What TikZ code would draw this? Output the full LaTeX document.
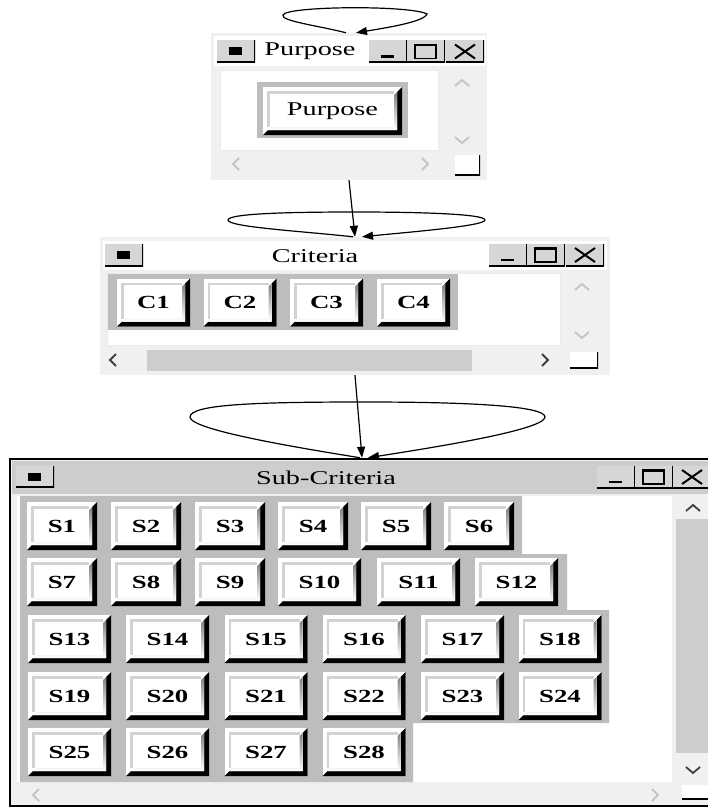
\documentclass[tikz,border=0pt]{standalone}
\usepackage{fontspec}
\setmainfont{Liberation Serif}[FakeStretch=1.45]
\usetikzlibrary{arrows.meta}

\definecolor{winbg}{HTML}{F0F0F0}
\definecolor{panelgray}{HTML}{BDBDBD}
\definecolor{titlegray}{HTML}{CDCDCD}
\definecolor{tbgray}{HTML}{D6D6D6}
\definecolor{shade}{HTML}{959595}
\definecolor{faceline}{HTML}{D2D2D2}
\definecolor{offgray}{HTML}{C4C4C4}

\newcommand\btnfont{\fontsize{18.5}{22}\selectfont\bfseries}
\newcommand\ttlfont{\fontsize{19.5}{22}\selectfont}
\def\ppbb{path picture bounding box}
\def\tbedge{\draw[black, line width=3pt] (\ppbb.south west) -- (\ppbb.south east) -- (\ppbb.north east);}

\tikzset{
  btn/.style={inner sep=0pt, minimum width=70pt, minimum height=48pt, fill=white, font=\btnfont,
    path picture={
      \fill[black] (\ppbb.south west) -- (\ppbb.south east) -- (\ppbb.north east)
        -- ([xshift=-5pt,yshift=-5pt]\ppbb.north east) -- ([xshift=-5pt,yshift=5pt]\ppbb.south east)
        -- ([xshift=5pt,yshift=5pt]\ppbb.south west) -- cycle;
      \fill[shade] ([xshift=5pt,yshift=5pt]\ppbb.south west) -- ([xshift=-5pt,yshift=5pt]\ppbb.south east)
        -- ([xshift=-5pt,yshift=-5pt]\ppbb.north east) -- ([xshift=-8pt,yshift=-8pt]\ppbb.north east)
        -- ([xshift=-8pt,yshift=8pt]\ppbb.south east) -- ([xshift=8pt,yshift=8pt]\ppbb.south west) -- cycle;
      \draw[faceline, line width=2.5pt] ([xshift=5.5pt,yshift=8pt]\ppbb.south west)
        |- ([xshift=-8pt,yshift=-5.5pt]\ppbb.north east);
    }},
  btnw/.style={btn, minimum width=83pt},
  tbtn/.style={inner sep=0pt, minimum width=38pt, minimum height=22pt, fill=tbgray},
  sysbtn/.style={tbtn, path picture={\tbedge
      \fill[black] ([xshift=-7pt,yshift=-4pt]\ppbb.center) rectangle ([xshift=6pt,yshift=4pt]\ppbb.center);}},
  minbtn/.style={tbtn, path picture={\tbedge
      \draw[black, line width=2.5pt] ([xshift=-7pt,yshift=-5pt]\ppbb.center) -- ([xshift=6pt,yshift=-5pt]\ppbb.center);}},
  maxbtn/.style={tbtn, path picture={\tbedge
      \draw[black, line width=1.6pt] ([xshift=-11pt,yshift=-7pt]\ppbb.center) rectangle ([xshift=10pt,yshift=7pt]\ppbb.center);
      \draw[black, line width=2pt] ([xshift=-11pt,yshift=6pt]\ppbb.center) -- ([xshift=10pt,yshift=6pt]\ppbb.center);}},
  closebtn/.style={tbtn, path picture={\tbedge
      \draw[black, line width=2pt] ([xshift=-10pt,yshift=-7pt]\ppbb.center) -- ([xshift=10pt,yshift=7pt]\ppbb.center)
        ([xshift=-10pt,yshift=7pt]\ppbb.center) -- ([xshift=10pt,yshift=-7pt]\ppbb.center);}},
  grip/.style={inner sep=0pt, fill=white, path picture={\tbedge}},
  ttl/.style={inner sep=0pt, font=\ttlfont},
}

\begin{document}
\begin{tikzpicture}[x=1pt, y=-1pt,
    win/.style={inner sep=0pt, fill=winbg},
    arr/.style={-{Triangle[length=11pt,width=8pt]}, line width=1.2pt},
    chevon/.style={draw=black!75, line width=1.8pt},
    chevoff/.style={draw=offgray, line width=1.8pt}]
  \useasboundingbox (0,0) rectangle (707,808);

  % Purpose window
  \node[win, minimum width=276pt, minimum height=147pt] (purpose) at (349,106.5) {};
  \fill[white] (214,36) rectangle (486,66);
  \node[sysbtn] (psys) at (236,51.5) {};
  \node[ttl] (ptitle) at (310,51) {Purpose};
  \node[minbtn] (pmin) at (388,51.5) {};
  \node[maxbtn] (pmax) at (426,51.5) {};
  \node[closebtn] (pclose) at (465,51.5) {};
  \filldraw[fill=white, draw=black!8] (220,70) rectangle (438,150);
  \fill[panelgray] (257,82) rectangle (408,138);
  \node[btn, minimum width=139pt, font=\fontsize{19.5}{22}\selectfont] (pbtn) at (332.5,111) {Purpose};
  \draw[chevoff] (455,86) -- (462,80) -- (469,86);
  \draw[chevoff] (455,137) -- (462,143) -- (469,137);
  \draw[chevoff] (239,158) -- (233,164) -- (239,170);
  \draw[chevoff] (422,158) -- (428,164) -- (422,170);
  \node[grip, minimum width=25pt, minimum height=20pt] (pgrip) at (467.5,165) {};

  % Criteria window
  \node[win, minimum width=510pt, minimum height=138pt] (criteria) at (355,306) {};
  \fill[white] (103,241) rectangle (607,270);
  \node[sysbtn] (csys) at (124,255) {};
  \node[ttl] (ctitle) at (315,256) {Criteria};
  \node[minbtn] (cmin) at (508,255) {};
  \node[maxbtn] (cmax) at (546,255) {};
  \node[closebtn] (cclose) at (585,255) {};
  \filldraw[fill=white, draw=black!8] (107,273) rectangle (560,345);
  \fill[panelgray] (108,274) rectangle (458,330);
  \node[btn, minimum width=73pt] (c1) at (153.5,302.5) {C1};
  \node[btn, minimum width=73pt] (c2) at (240,302.5) {C2};
  \node[btn, minimum width=73pt] (c3) at (326.5,302.5) {C3};
  \node[btn, minimum width=73pt] (c4) at (413.5,302.5) {C4};
  \draw[chevoff] (575,290) -- (582,284) -- (589,290);
  \draw[chevoff] (575,332) -- (582,338) -- (589,332);
  \fill[titlegray] (147,350) rectangle (472,371);
  \draw[chevon] (116,354) -- (110,360) -- (116,366);
  \draw[chevon] (542,354) -- (548,360) -- (542,366);
  \node[grip, minimum width=28pt, minimum height=16pt] (cgrip) at (584,360) {};

  % Sub-Criteria window
  \node[win, draw=black, line width=2.5pt, minimum width=704pt, minimum height=347pt] (sub) at (362,632.5) {};
  \fill[titlegray] (11.5,461) rectangle (714,494);
  \node[sysbtn] (ssys) at (35,476.5) {};
  \node[ttl] (stitle) at (326,478) {Sub-Criteria};
  \node[minbtn] (smin) at (616,477) {};
  \node[maxbtn] (smax) at (654,477) {};
  \node[closebtn] (sclose) at (692,477) {};
  \fill[white] (17,496) rectangle (672,782);
  \fill[panelgray] (20,496) -- (522,496) -- (522,554) -- (567,554) -- (567,610) -- (609,610)
    -- (609,723) -- (413,723) -- (413,782) -- (20,782) -- cycle;
  \node[btn] (s1) at (62,526) {S1};
  \node[btn] (s2) at (146,526) {S2};
  \node[btn] (s3) at (230,526) {S3};
  \node[btn] (s4) at (313,526) {S4};
  \node[btn] (s5) at (396,526) {S5};
  \node[btn] (s6) at (479,526) {S6};
  \node[btn] (s7) at (62,582) {S7};
  \node[btn] (s8) at (146,582) {S8};
  \node[btn] (s9) at (230,582) {S9};
  \node[btnw] (s10) at (319.5,582) {S10};
  \node[btnw] (s11) at (418.5,582) {S11};
  \node[btnw] (s12) at (516.5,582) {S12};
  \node[btnw] (s13) at (69.5,639) {S13};
  \node[btnw] (s14) at (167.5,639) {S14};
  \node[btnw] (s15) at (266,639) {S15};
  \node[btnw] (s16) at (364,639) {S16};
  \node[btnw] (s17) at (462.5,639) {S17};
  \node[btnw] (s18) at (560,639) {S18};
  \node[btnw] (s19) at (69.5,696) {S19};
  \node[btnw] (s20) at (167.5,696) {S20};
  \node[btnw] (s21) at (266,696) {S21};
  \node[btnw] (s22) at (364,696) {S22};
  \node[btnw] (s23) at (462.5,696) {S23};
  \node[btnw] (s24) at (560,696) {S24};
  \node[btnw] (s25) at (69.5,752) {S25};
  \node[btnw] (s26) at (167.5,752) {S26};
  \node[btnw] (s27) at (266,752) {S27};
  \node[btnw] (s28) at (364,752) {S28};
  \fill[titlegray] (676,519) rectangle (714,753);
  \draw[chevon] (686,511) -- (693,505) -- (700,511);
  \draw[chevon] (686,767) -- (693,773) -- (700,767);
  \draw[chevoff] (39,789) -- (33,795) -- (39,801);
  \draw[chevoff] (652,789) -- (658,795) -- (652,801);
  \node[grip, minimum width=28pt, minimum height=15pt] (sgrip) at (696,792) {};

  % connectors
  \draw[arr] ([xshift=-3pt]purpose.north) .. controls (320,26) and (280,21) .. (283,15)
    .. controls (286,6) and (410,5) .. (427,14) .. controls (424,22) and (385,28) .. ([xshift=7pt]purpose.north);
  \draw[arr] (purpose.south) -- (criteria.north);
  \draw[arr] ([xshift=-2pt]criteria.north) .. controls (300,231) and (228,227) .. (228,220)
    .. controls (228,213) and (300,212) .. (356,212) .. controls (420,212) and (485,214) .. (485,220)
    .. controls (485,226) and (410,232) .. ([xshift=7pt]criteria.north);
  \draw[arr] (criteria.south) -- (sub.north);
  \draw[arr] ([xshift=-2pt]sub.north) .. controls (300,448) and (190,430) .. (190,417)
    .. controls (190,404) and (260,402) .. (365,402) .. controls (470,402) and (545,406) .. (545,417)
    .. controls (545,430) and (430,448) .. ([xshift=6pt]sub.north);
\end{tikzpicture}
\end{document}
